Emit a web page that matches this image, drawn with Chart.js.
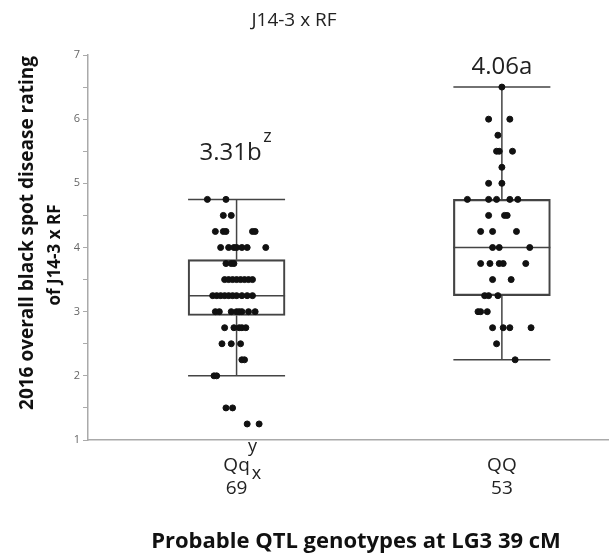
<!DOCTYPE html>
<html>
<head>
<meta charset="utf-8">
<script src="https://cdn.jsdelivr.net/npm/chart.js@4.4.1/dist/chart.umd.min.js"></script>
<style>
  body { margin: 0; background: #fff; }
  #wrap { width: 613px; height: 556px; }
</style>
</head>
<body>
<div id="wrap"><canvas id="myChart" width="613" height="556"></canvas></div>
<script>
// groups on the x axis
const groups = ['Qq', 'QQ'];
const groupCounts = ['69', '53'];
const groupMeans = ['3.31b', '4.06a'];

// box plot summary per group
const whiskerLow = [2.0, 2.25];
const boxQ1 = [2.94, 3.25];
const boxMedian = [3.25, 4.0];
const boxQ3 = [3.81, 4.75];
const whiskerHigh = [4.75, 6.5];

// Qq individual ratings + horizontal jitter (category units)
const hetRatings = [
  4.75, 4.75, 4.5, 4.5,
  4.25, 4.25, 4.25, 4.25, 4.25,
  4, 4, 4, 4, 4, 4, 4,
  3.75, 3.75, 3.75,
  3.5, 3.5, 3.5, 3.5, 3.5, 3.5, 3.5, 3.5,
  3.25, 3.25, 3.25, 3.25, 3.25, 3.25, 3.25, 3.25, 3.25, 3.25,
  3, 3, 3, 3, 3, 3, 3, 3,
  2.75, 2.75, 2.75, 2.75, 2.75,
  2.5, 2.5, 2.5,
  2.25, 2.25, 2, 2, 1.5, 1.5, 1.25, 1.25
];
const hetJitter = [
  -0.11, -0.04, -0.05, -0.02,
  -0.08, -0.05, -0.04, 0.06, 0.07,
  -0.06, -0.03, -0.01, 0, 0.02, 0.04, 0.11,
  -0.04, -0.02, -0.01,
  -0.045, -0.03, -0.015, 0, 0.015, 0.03, 0.045, 0.06,
  -0.09, -0.075, -0.06, -0.045, -0.03, -0.015, 0, 0.02, 0.04, 0.06,
  -0.08, -0.065, -0.02, 0, 0.01, 0.02, 0.045, 0.07,
  -0.045, -0.01, 0.01, 0.02, 0.035,
  -0.055, -0.02, 0.015,
  0.02, 0.03, -0.085, -0.075, -0.04, -0.015, 0.04, 0.085
];

// QQ individual ratings + jitter
const homRatings = [
  6.5, 6, 6, 5.75, 5.5, 5.5, 5.5, 5.25, 5, 5,
  4.75, 4.75, 4.75, 4.75, 4.75,
  4.5, 4.5, 4.5, 4.25, 4.25, 4.25, 4, 4, 4,
  3.75, 3.75, 3.75, 3.75, 3.75,
  3.5, 3.5, 3.25, 3.25, 3.25, 3, 3, 3,
  2.75, 2.75, 2.75, 2.75, 2.5, 2.25
];
const homJitter = [
  0, -0.05, 0.03, -0.015, -0.02, -0.01, 0.04, 0, -0.05, 0,
  -0.13, -0.05, -0.02, 0.03, 0.06,
  -0.05, 0.01, 0.02, -0.08, -0.035, 0.055, -0.035, -0.01, 0.105,
  -0.08, -0.045, -0.01, 0.005, 0.09,
  -0.035, 0.035, -0.065, -0.05, -0.015, -0.09, -0.08, -0.055,
  -0.035, 0.005, 0.03, 0.11, -0.02, 0.05
];

const FONT = '"Open Sans", "DejaVu Sans", sans-serif';

// whiskers, caps and median line drawn under the dots
const whiskerPlugin = {
  id: 'whiskers',
  beforeDatasetsDraw(chart) {
    const { ctx, scales: { x, y } } = chart;
    const boxes = chart.getDatasetMeta(2).data;
    ctx.save();
    ctx.strokeStyle = '#444';
    ctx.lineWidth = 1.5;
    groups.forEach((g, i) => {
      const cx = x.getPixelForValue(i + 1);
      const half = boxes[i] ? boxes[i].width / 2 : 48;
      ctx.beginPath();
      ctx.moveTo(cx, y.getPixelForValue(whiskerLow[i]));
      ctx.lineTo(cx, y.getPixelForValue(boxQ1[i]));
      ctx.moveTo(cx, y.getPixelForValue(boxQ3[i]));
      ctx.lineTo(cx, y.getPixelForValue(whiskerHigh[i]));
      [whiskerLow[i], whiskerHigh[i], boxMedian[i]].forEach(v => {
        const py = y.getPixelForValue(v);
        ctx.moveTo(cx - half, py);
        ctx.lineTo(cx + half, py);
      });
      ctx.stroke();
    });
    ctx.restore();
  }
};

// titles and the mean letters
const textPlugin = {
  id: 'texts',
  afterDraw(chart) {
    const { ctx, scales: { x } } = chart;
    ctx.save();
    ctx.fillStyle = '#222';
    ctx.textBaseline = 'alphabetic';

    ctx.textAlign = 'center';
    ctx.font = '19px ' + FONT;
    ctx.fillText('J14-3 x RF', 294, 26);

    // mean labels
    ctx.font = '24px ' + FONT;
    ctx.fillText(groupMeans[0], x.getPixelForValue(1) - 6, 160);
    ctx.fillText(groupMeans[1], x.getPixelForValue(2), 74);
    ctx.font = '18px ' + FONT;
    ctx.fillText('z', x.getPixelForValue(1) + 31, 142);
    ctx.fillText('y', x.getPixelForValue(1) + 16, 452);
    ctx.fillText('x', x.getPixelForValue(1) + 20, 479);

    // axis titles
    ctx.fillStyle = '#111';
    ctx.font = 'bold 22px ' + FONT;
    ctx.fillText('Probable QTL genotypes at LG3 39 cM', 356, 548);

    ctx.font = 'bold 19px ' + FONT;
    ctx.translate(33, 233);
    ctx.rotate(-Math.PI / 2);
    ctx.fillText('2016 overall black spot disease rating', 0, 0);
    ctx.rotate(Math.PI / 2);
    ctx.translate(27, 22);
    ctx.rotate(-Math.PI / 2);
    ctx.font = 'bold 17px ' + FONT;
    ctx.fillText('of J14-3 x RF', 0, 0);
    ctx.restore();
  }
};

const chart = new Chart(document.getElementById('myChart'), {
  type: 'scatter',
  data: {
    datasets: [
      {
        label: groups[0],
        data: hetRatings.map((v, i) => ({ x: 1 + hetJitter[i], y: v })),
        backgroundColor: '#111',
        borderColor: '#111',
        pointRadius: 3,
        order: 0,
      },
      {
        label: groups[1],
        data: homRatings.map((v, i) => ({ x: 2 + homJitter[i], y: v })),
        backgroundColor: '#111',
        borderColor: '#111',
        pointRadius: 3,
        order: 0,
      },
      {
        type: 'bar',
        label: 'box',
        data: groups.map((g, i) => ({ x: i + 1, y: [boxQ1[i], boxQ3[i]] })),
        backgroundColor: 'rgba(0,0,0,0)',
        borderColor: '#444',
        borderWidth: 1.5,
        borderSkipped: false,
        barThickness: 97,
        order: 1,
      },
    ],
  },
  options: {
    responsive: false,
    animation: false,
    layout: { padding: { top: 55, right: 0, left: 0, bottom: 0 } },
    plugins: {
      legend: { display: false },
      tooltip: { enabled: false },
    },
    scales: {
      x: {
        type: 'linear',
        offset: false,
        min: 0.44,
        max: 2.4,
        afterBuildTicks: (scale) => { scale.ticks = groups.map((g, i) => ({ value: i + 1 })); },
        afterFit: (scale) => { scale.height = 116; },
        ticks: {
          callback: (v) => [groups[v - 1], groupCounts[v - 1]],
          font: { size: 19, family: FONT },
          color: '#222',
          padding: 6,
          maxRotation: 0,
        },
        grid: { display: false, offset: false },
        border: { display: true, color: '#aaa', width: 1.5 },
      },
      y: {
        min: 1,
        max: 7,
        afterFit: (scale) => { scale.width = 88; },
        ticks: {
          stepSize: 0.5,
          callback: (v) => (v % 1 === 0 ? v : ''),
          font: { size: 11, family: FONT },
          color: '#666',
          padding: 3,
        },
        grid: { drawOnChartArea: false, tickLength: 5, color: '#aaa' },
        border: { display: true, color: '#aaa', width: 1.5 },
      },
    },
  },
  plugins: [whiskerPlugin, textPlugin],
});
</script>
</body>
</html>
